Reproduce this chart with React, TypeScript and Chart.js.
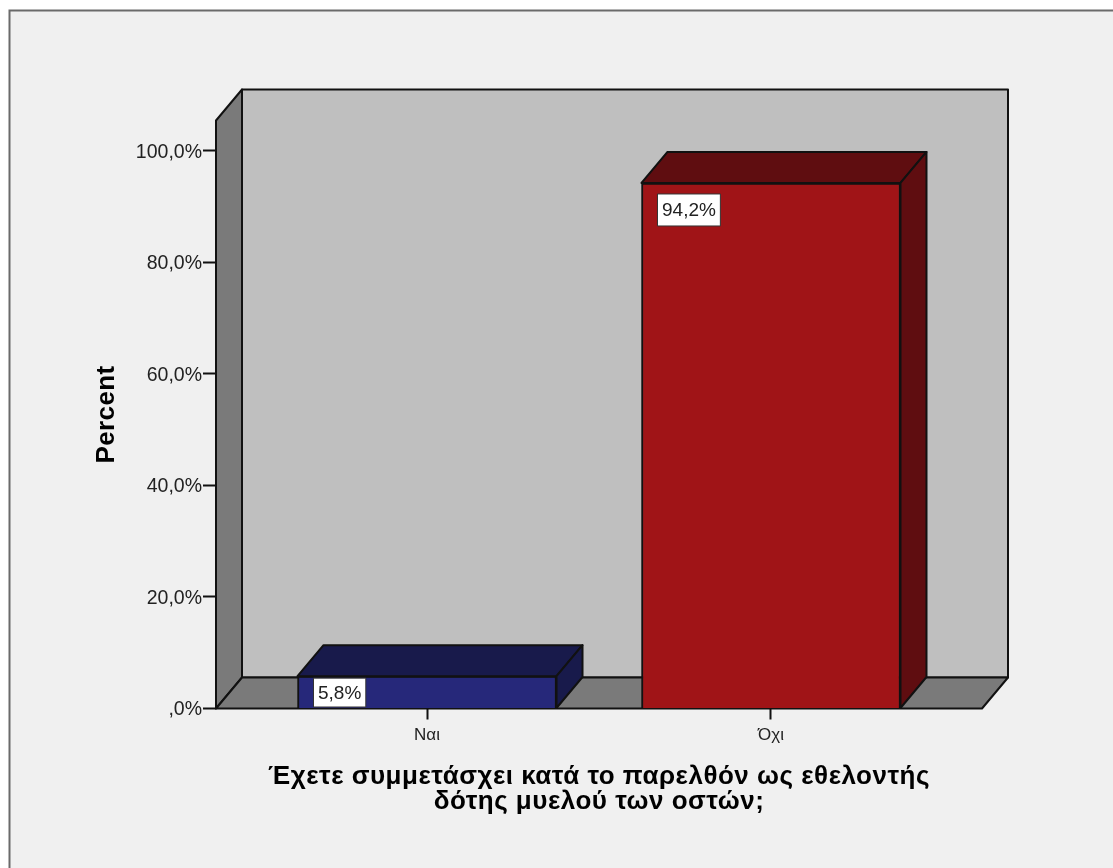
import React, { useEffect, useRef } from "react";
import { Chart, registerables } from "chart.js";

Chart.register(...registerables);

const categories = ["Ναι", "Όχι"];
const percentValues = [5.8, 94.2];
const valueLabels = ["5,8%", "94,2%"];
const yTickValues = [0, 20, 40, 60, 80, 100];
const yTickLabels = [",0%", "20,0%", "40,0%", "60,0%", "80,0%", "100,0%"];
const xAxisTitle = ["Έχετε συμμετάσχει κατά το παρελθόν ως εθελοντής", "δότης μυελού των οστών;"];
const yAxisTitle = "Percent";
const frontColors = ["#26287a", "#a01417"];
const shadeColors = ["#181a4b", "#5f0d10"];

const DX = 26;
const DY = -31;
const LINE = "#111111";
const FONT = "'Liberation Sans', Arial, sans-serif";

function poly(ctx: CanvasRenderingContext2D, pts: number[][], fill: string, lw = 2) {
  ctx.beginPath();
  pts.forEach((p, i) => (i ? ctx.lineTo(p[0], p[1]) : ctx.moveTo(p[0], p[1])));
  ctx.closePath();
  ctx.fillStyle = fill;
  ctx.fill();
  ctx.lineWidth = lw;
  ctx.strokeStyle = LINE;
  ctx.lineJoin = "round";
  ctx.stroke();
}

// Axis titles in the reference are letter-spaced; Chart.js has no option for it.
function spaceTitle(scale: any, spacing: string) {
  if (scale.__spaced) return;
  scale.__spaced = true;
  const original = scale.drawTitle;
  scale.drawTitle = function (...args: any[]) {
    const ctx = scale.ctx;
    ctx.letterSpacing = spacing;
    original.apply(scale, args);
    ctx.letterSpacing = "0px";
  };
}

const framePlugin = {
  id: "frame",
  beforeDraw(chart: any) {
    const { ctx, width, height } = chart;
    ctx.save();
    ctx.fillStyle = "#ffffff";
    ctx.fillRect(0, 0, width, height);
    ctx.fillStyle = "#f0f0f0";
    ctx.fillRect(9, 10, width, height);
    ctx.strokeStyle = "#6a6a6a";
    ctx.lineWidth = 2;
    ctx.beginPath();
    ctx.moveTo(9.5, height + 2);
    ctx.lineTo(9.5, 10.5);
    ctx.lineTo(width + 2, 10.5);
    ctx.stroke();
    ctx.restore();
  },
};

const walls3dPlugin = {
  id: "walls3d",
  beforeDatasetsDraw(chart: any) {
    const { ctx, chartArea: a } = chart;
    const { left: l, right: r, top: t, bottom: b } = a;
    ctx.save();
    poly(ctx, [[l + DX, t + DY], [r + DX, t + DY], [r + DX, b + DY], [l + DX, b + DY]], "#bfbfbf");
    poly(ctx, [[l, t], [l + DX, t + DY], [l + DX, b + DY], [l, b]], "#7a7a7a");
    poly(ctx, [[l, b], [l + DX, b + DY], [r + DX, b + DY], [r, b]], "#7a7a7a");
    ctx.restore();
  },
  afterDatasetsDraw(chart: any) {
    const { ctx } = chart;
    const meta = chart.getDatasetMeta(0);
    ctx.save();
    meta.data.forEach((bar: any, i: number) => {
      const x0 = bar.x - bar.width / 2;
      const x1 = bar.x + bar.width / 2;
      const top = bar.y;
      const base = bar.base;
      poly(ctx, [[x0, top], [x0 + DX, top + DY], [x1 + DX, top + DY], [x1, top]], shadeColors[i]);
      poly(ctx, [[x1, top], [x1 + DX, top + DY], [x1 + DX, base + DY], [x1, base]], shadeColors[i]);

      const text = valueLabels[i];
      ctx.font = `19px ${FONT}`;
      const tw = ctx.measureText(text).width;
      const bw = tw + 9;
      const bh = Math.min(32, base - top - 3);
      const bx = x0 + 16;
      const y = base - top > 40 ? top + 11 : top + 2;
      ctx.fillStyle = "#ffffff";
      ctx.fillRect(bx, y, bw, bh);
      ctx.lineWidth = 1;
      ctx.strokeStyle = "#333333";
      ctx.strokeRect(bx, y, bw, bh);
      ctx.fillStyle = "#222222";
      ctx.textAlign = "center";
      ctx.textBaseline = "middle";
      ctx.fillText(text, bx + bw / 2, y + bh / 2 + 1);
    });
    ctx.restore();
  },
};

export default function App() {
  const ref = useRef<HTMLCanvasElement | null>(null);
  useEffect(() => {
    document.body.style.margin = "0";
    const canvas = ref.current!;
    const chart = new Chart(canvas, {
      type: "bar",
      data: {
        labels: categories,
        datasets: [
          {
            label: "Percent",
            data: categories.map((_, i) => ({ x: i, y: percentValues[i] })),
            backgroundColor: frontColors,
            borderColor: LINE,
            borderWidth: 2,
            barThickness: 259,
          },
        ],
      } as any,
      plugins: [framePlugin, walls3dPlugin],
      options: {
        responsive: false,
        animation: false,
        layout: { padding: { left: 0, top: 120.5, right: 131, bottom: 0 } },
        plugins: { legend: { display: false }, tooltip: { enabled: false } },
        scales: {
          x: {
            type: "linear",
            offset: false,
            min: -0.6134,
            max: 1.6134,
            afterBuildTicks: (s: any) => {
              s.ticks = categories.map((_, i) => ({ value: i }));
            },
            afterFit: (s: any) => {
              s.height = 159.5;
              spaceTitle(s, "0.5px");
            },
            ticks: {
              autoSkip: false,
              maxRotation: 0,
              padding: 6,
              color: "#222222",
              font: { family: FONT, size: 17 },
              callback: (v: any) => categories[v],
            },
            grid: { display: true, offset: false, drawOnChartArea: false, drawTicks: true, tickLength: 11, tickColor: LINE, tickWidth: 2 },
            border: { display: false },
            title: {
              display: true,
              text: xAxisTitle,
              color: "#000000",
              font: { family: FONT, size: 26, weight: "bold", lineHeight: 0.98 },
              padding: { top: 0, bottom: 53 },
            },
          },
          y: {
            type: "linear",
            min: 0,
            max: 105.4,
            afterBuildTicks: (s: any) => {
              s.ticks = yTickValues.map((value) => ({ value }));
            },
            afterFit: (s: any) => {
              s.width = 216;
              spaceTitle(s, "0.4px");
            },
            ticks: {
              padding: 1,
              labelOffset: 1.5,
              color: "#222222",
              font: { family: FONT, size: 19.5 },
              callback: (v: any) => yTickLabels[yTickValues.indexOf(v)],
            },
            grid: { display: true, drawOnChartArea: false, drawTicks: true, tickLength: 13, tickColor: LINE, tickWidth: 2 },
            border: { display: false },
            title: {
              display: true,
              text: yAxisTitle,
              color: "#000000",
              font: { family: FONT, size: 26, weight: "bold" },
              padding: { top: 91, bottom: 0 },
            },
          },
        },
      } as any,
    });
    return () => chart.destroy();
  }, []);
  return (
    <div style={{ width: 1113, height: 868, overflow: "hidden" }}>
      <canvas ref={ref} width={1113} height={868} style={{ display: "block" }} />
    </div>
  );
}
